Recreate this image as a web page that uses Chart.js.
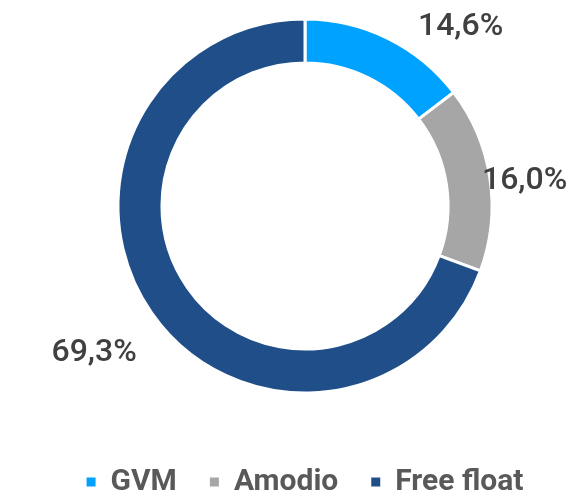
<!DOCTYPE html>
<html>
<head>
<meta charset="utf-8">
<script src="https://cdn.jsdelivr.net/npm/chart.js@4/dist/chart.umd.min.js"></script>
<style>
html,body{margin:0;padding:0;background:#fff;}
#wrap{position:relative;width:585px;height:498px;}
</style>
</head>
<body>
<div id="wrap"><canvas id="c" width="585" height="498"></canvas></div>
<script>
const categories = ['GVM', 'Amodio', 'Free float'];
const shares = [14.6, 16.0, 69.3];
const sliceColors = ['#00A2FF', '#A6A6A6', '#1F4E89'];

// label placement styles: fraction along arc, distance beyond outer radius
const labelFrac = [0.78, 0.537, 0.50];
const labelGap = [50, 34, 70];

const fmt = v => v.toFixed(1).replace('.', ',') + '%';

const outsideLabels = {
  id: 'outsideLabels',
  afterDatasetsDraw(chart) {
    const ctx = chart.ctx;
    const meta = chart.getDatasetMeta(0);
    ctx.save();
    ctx.font = '500 32px Roboto, sans-serif';
    ctx.fillStyle = '#404040';
    ctx.textAlign = 'center';
    ctx.textBaseline = 'middle';
    meta.data.forEach((arc, i) => {
      const p = arc.getProps(['x', 'y', 'startAngle', 'endAngle', 'outerRadius'], true);
      const a = p.startAngle + labelFrac[i] * (p.endAngle - p.startAngle);
      const r = p.outerRadius + labelGap[i];
      ctx.fillText(fmt(chart.data.datasets[0].data[i]), p.x + Math.cos(a) * r, p.y + Math.sin(a) * r);
    });
    ctx.restore();
  }
};

new Chart(document.getElementById('c'), {
  type: 'doughnut',
  data: {
    labels: categories,
    datasets: [{
      data: shares,
      backgroundColor: sliceColors,
      borderColor: '#ffffff',
      borderWidth: 3,
      hoverOffset: 0
    }]
  },
  options: {
    responsive: false,
    animation: false,
    cutout: '76.5%',
    radius: 187,
    layout: { padding: { left: 25, right: 0, top: 0, bottom: -9 } },
    plugins: {
      tooltip: { enabled: false },
      legend: {
        position: 'bottom',
        title: { display: true, text: '', font: { size: 1 }, padding: { top: 20.8, bottom: 0 } },
        labels: {
          boxWidth: 9,
          boxHeight: 9,
          padding: 33,
          color: '#595959',
          font: { family: 'Roboto, sans-serif', size: 30, weight: 'bold' },
          generateLabels(chart) {
            const items = Chart.overrides.doughnut.plugins.legend.labels.generateLabels(chart);
            items.forEach(it => { it.lineWidth = 0; it.strokeStyle = it.fillStyle; });
            return items;
          }
        }
      }
    }
  },
  plugins: [outsideLabels]
});
</script>
</body>
</html>
